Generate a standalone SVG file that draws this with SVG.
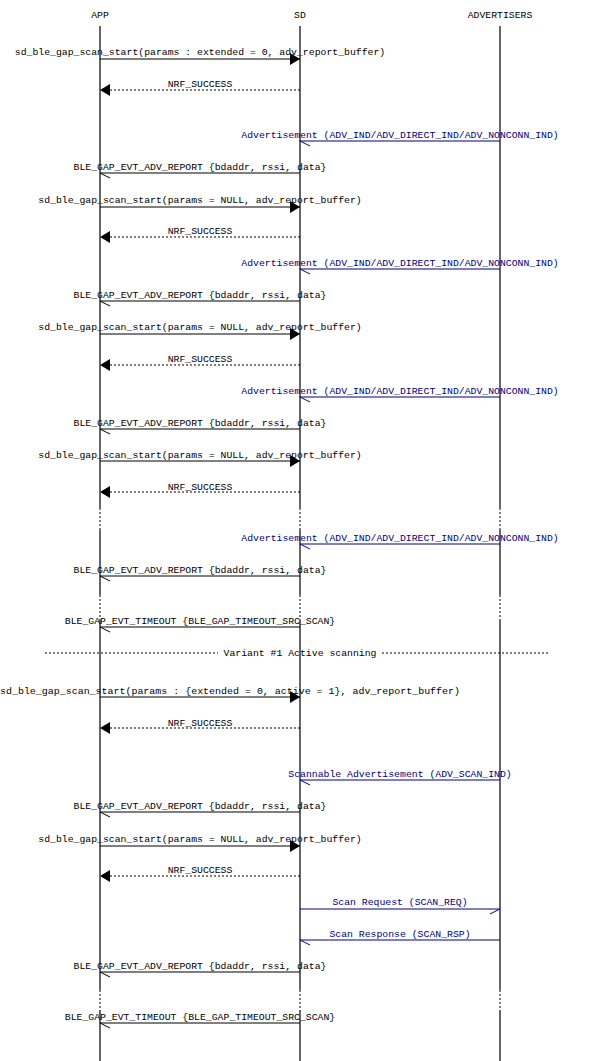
<svg xmlns="http://www.w3.org/2000/svg" width="600" height="1061" viewBox="0 0 600 1061">
<style>
text{font-family:"Liberation Mono","DejaVu Sans Mono",monospace;font-size:9.8px;text-anchor:middle;fill:#000}
.b{fill:#000080}
.l{stroke:#000;stroke-width:1;fill:none}
.bl{stroke:#000080;stroke-width:1;fill:none}
.d{stroke:#000;stroke-width:1;stroke-dasharray:2,2;fill:none}
.ll{stroke:#000;stroke-width:1.2;fill:none}
.w{stroke:#fff;stroke-width:3}
</style>
<defs>
<marker id="f" markerWidth="10" markerHeight="12" refX="10" refY="6" orient="auto" markerUnits="userSpaceOnUse"><path d="M0,0L10,6L0,12Z" fill="#000"/></marker>
<marker id="o" markerWidth="11" markerHeight="12" refX="10" refY="11" orient="auto" markerUnits="userSpaceOnUse"><path d="M10,11L0,6" stroke="#000" fill="none"/></marker>
<marker id="ob" markerWidth="11" markerHeight="12" refX="10" refY="11" orient="auto" markerUnits="userSpaceOnUse"><path d="M10,11L0,6" stroke="#000080" fill="none"/></marker>
<marker id="obr" markerWidth="11" markerHeight="12" refX="10" refY="1" orient="auto" markerUnits="userSpaceOnUse"><path d="M10,1L0,6" stroke="#000080" fill="none"/></marker>
</defs>
<g id="APP"><text x="100" y="18">APP</text><path class="ll" d="M100,26V1061"/></g>
<g id="SD"><text x="300" y="18">SD</text><path class="ll" d="M300,26V1061"/></g>
<g id="ADVERTISERS"><text x="500" y="18">ADVERTISERS</text><path class="ll" d="M500,26V1061"/></g>
<g id="gaps">
<path class="w" d="M100,508V530M300,508V530M500,508V530M100,595V620M300,595V620M500,595V620M100,990V1010M300,990V1010M500,990V1010"/>
<path class="d" d="M100,508V530M300,508V530M500,508V530M100,595V620M300,595V620M500,595V620M100,990V1010M300,990V1010M500,990V1010"/>
</g>
<g id="connectors">
<path class="l" d="M100,59H300" marker-end="url(#f)"/><text x="200" y="55">sd_ble_gap_scan_start(params : extended = 0, adv_report_buffer)</text>
<path class="d" d="M300,90H100" marker-end="url(#f)"/><text x="200" y="87">NRF_SUCCESS</text>
<path class="bl" d="M500,141H300" marker-end="url(#ob)"/><text class="b" x="400" y="138">Advertisement (ADV_IND/ADV_DIRECT_IND/ADV_NONCONN_IND)</text>
<path class="l" d="M300,173H100" marker-end="url(#o)"/><text x="200" y="170">BLE_GAP_EVT_ADV_REPORT {bdaddr, rssi, data}</text>
<path class="l" d="M100,207H300" marker-end="url(#f)"/><text x="200" y="203">sd_ble_gap_scan_start(params = NULL, adv_report_buffer)</text>
<path class="d" d="M300,237H100" marker-end="url(#f)"/><text x="200" y="234">NRF_SUCCESS</text>
<path class="bl" d="M500,269H300" marker-end="url(#ob)"/><text class="b" x="400" y="266">Advertisement (ADV_IND/ADV_DIRECT_IND/ADV_NONCONN_IND)</text>
<path class="l" d="M300,301H100" marker-end="url(#o)"/><text x="200" y="298">BLE_GAP_EVT_ADV_REPORT {bdaddr, rssi, data}</text>
<path class="l" d="M100,334H300" marker-end="url(#f)"/><text x="200" y="330">sd_ble_gap_scan_start(params = NULL, adv_report_buffer)</text>
<path class="d" d="M300,365H100" marker-end="url(#f)"/><text x="200" y="362">NRF_SUCCESS</text>
<path class="bl" d="M500,397H300" marker-end="url(#ob)"/><text class="b" x="400" y="394">Advertisement (ADV_IND/ADV_DIRECT_IND/ADV_NONCONN_IND)</text>
<path class="l" d="M300,429H100" marker-end="url(#o)"/><text x="200" y="426">BLE_GAP_EVT_ADV_REPORT {bdaddr, rssi, data}</text>
<path class="l" d="M100,461H300" marker-end="url(#f)"/><text x="200" y="458">sd_ble_gap_scan_start(params = NULL, adv_report_buffer)</text>
<path class="d" d="M300,492H100" marker-end="url(#f)"/><text x="200" y="490">NRF_SUCCESS</text>
<path class="bl" d="M500,544H300" marker-end="url(#ob)"/><text class="b" x="400" y="541">Advertisement (ADV_IND/ADV_DIRECT_IND/ADV_NONCONN_IND)</text>
<path class="l" d="M300,576H100" marker-end="url(#o)"/><text x="200" y="573">BLE_GAP_EVT_ADV_REPORT {bdaddr, rssi, data}</text>
<path class="l" d="M300,627H100" marker-end="url(#o)"/><text x="200" y="624">BLE_GAP_EVT_TIMEOUT {BLE_GAP_TIMEOUT_SRC_SCAN}</text>
<path class="d" d="M45,653H218M382,653H550"/><text x="300" y="656">Variant #1 Active scanning</text>
<path class="l" d="M100,697H300" marker-end="url(#f)"/><text x="230" y="694" textLength="460" lengthAdjust="spacingAndGlyphs">sd_ble_gap_scan_start(params : {extended = 0, active = 1}, adv_report_buffer)</text>
<path class="d" d="M300,728H100" marker-end="url(#f)"/><text x="200" y="726">NRF_SUCCESS</text>
<path class="bl" d="M500,780H300" marker-end="url(#ob)"/><text class="b" x="400" y="777">Scannable Advertisement (ADV_SCAN_IND)</text>
<path class="l" d="M300,812H100" marker-end="url(#o)"/><text x="200" y="809">BLE_GAP_EVT_ADV_REPORT {bdaddr, rssi, data}</text>
<path class="l" d="M100,846H300" marker-end="url(#f)"/><text x="200" y="842">sd_ble_gap_scan_start(params = NULL, adv_report_buffer)</text>
<path class="d" d="M300,876H100" marker-end="url(#f)"/><text x="200" y="873">NRF_SUCCESS</text>
<path class="bl" d="M300,909H500" marker-end="url(#obr)"/><text class="b" x="400" y="905">Scan Request (SCAN_REQ)</text>
<path class="bl" d="M500,940H300" marker-end="url(#ob)"/><text class="b" x="400" y="937">Scan Response (SCAN_RSP)</text>
<path class="l" d="M300,972H100" marker-end="url(#o)"/><text x="200" y="969">BLE_GAP_EVT_ADV_REPORT {bdaddr, rssi, data}</text>
<path class="l" d="M300,1023H100" marker-end="url(#o)"/><text x="200" y="1020">BLE_GAP_EVT_TIMEOUT {BLE_GAP_TIMEOUT_SRC_SCAN}</text>
</g>
</svg>
